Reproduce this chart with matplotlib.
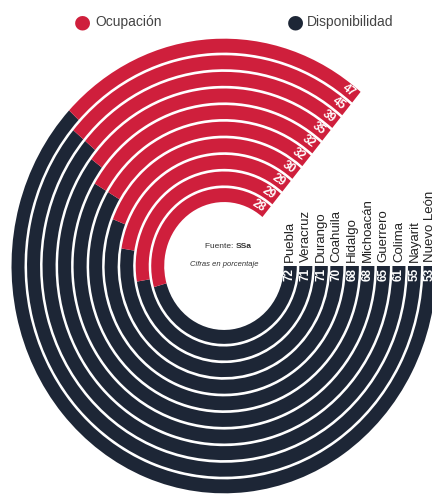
import numpy as np
import matplotlib.pyplot as plt
import matplotlib.transforms as mtransforms

plt.rcParams['font.family'] = ['Liberation Sans Narrow', 'Liberation Sans', 'DejaVu Sans']

# datos (cifras en porcentaje)
estados = ["Puebla", "Veracruz", "Durango", "Coahuila", "Hidalgo",
           "Michoacán", "Guerrero", "Colima", "Nayarit", "Nuevo León"]
disponibilidad = [72, 71, 71, 70, 68, 68, 65, 61, 55, 53]
ocupacion = [28, 29, 29, 30, 32, 32, 35, 39, 45, 47]

rojo = "#cf1f3c"
azul = "#1d2636"

span = np.deg2rad(310)   # each ring runs clockwise from 3 o'clock to ~50 deg
r0 = 62
paso = 16.1
grosor = 13.5
n = len(estados)

fig = plt.figure(figsize=(4.32, 5.0), dpi=100)
ax = fig.add_axes([9/432, 4/500, 430/432, 460/500], projection='polar')
ax.set_theta_zero_location('E')
ax.set_theta_direction(-1)
ax.set_aspect('auto')
ax.set_ylim(0, r0 + n*paso)
ax.axis('off')

base = r0 + paso*np.arange(n)
rmid = base + grosor/2

# in the printed graphic the arcs are drawn in reverse order to the labels
disp_arco = np.array(disponibilidad[::-1])
ocup_arco = np.array(ocupacion[::-1])

ax.bar(np.zeros(n), grosor, width=span*disp_arco/100, bottom=base,
       align='edge', color=azul, linewidth=0)
ax.bar(span*disp_arco/100, grosor, width=span*ocup_arco/100, bottom=base,
       align='edge', color=rojo, linewidth=0)

arriba = mtransforms.offset_copy(ax.transData, fig=fig, x=0, y=4, units='dots')
for i in range(n):
    ax.text(0, rmid[i], estados[i], transform=arriba, rotation=90,
            ha='center', va='bottom', fontsize=9.5, color='#222222')
    ax.text(8/rmid[i], rmid[i], str(disponibilidad[i]), rotation=90,
            ha='center', va='center', color='white', fontsize=8.5, fontweight='bold')
    th = span - 10/rmid[i]
    ax.text(th, rmid[i], str(ocupacion[i]), rotation=-np.rad2deg(th) - 90,
            ha='center', va='center', color='white', fontsize=8.5, fontweight='bold')

# textos del centro
fig.text(236/432, 1 - 247/500, "Fuente: ", ha='right', va='center', fontsize=6, color='#333333')
fig.text(236/432, 1 - 247/500, "SSa", ha='left', va='center', fontsize=6,
         fontweight='bold', color='#333333')
fig.text(224/432, 1 - 265/500, "Cifras en porcentaje", ha='center', va='center',
         fontsize=5.5, style='italic', color='#333333')

# leyenda
fig.text(82/432, 1 - 22/500, "●", color=rojo, fontsize=14, ha='center', va='center',
         family='DejaVu Sans')
fig.text(95/432, 1 - 22/500, "Ocupación", ha='left', va='center', fontsize=10, color='#444444')
fig.text(295/432, 1 - 22/500, "●", color=azul, fontsize=14, ha='center', va='center',
         family='DejaVu Sans')
fig.text(307/432, 1 - 22/500, "Disponibilidad", ha='left', va='center', fontsize=10, color='#444444')

fig.savefig("out.png", dpi=100)
